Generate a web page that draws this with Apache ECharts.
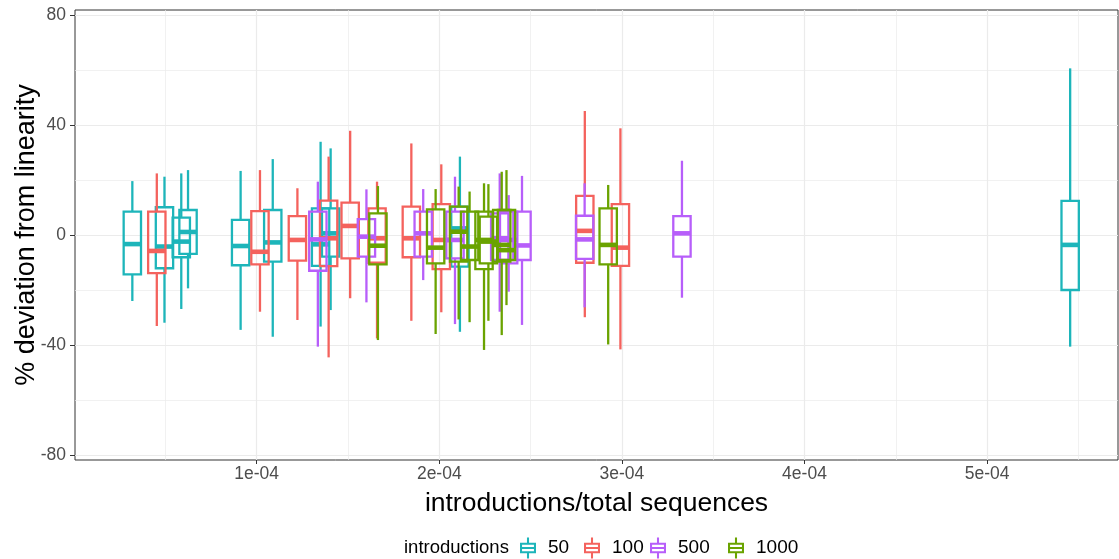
<!DOCTYPE html>
<html>
<head>
<meta charset="utf-8">
<script src="https://cdn.jsdelivr.net/npm/echarts@6/dist/echarts.min.js"></script>
<style>
  html, body { margin: 0; padding: 0; background: #ffffff; }
  #chart { width: 1119px; height: 559px; }
</style>
</head>
<body>
<div id="chart"></div>
<script>
// Each row: [introductions / total sequences, lower whisker, Q1, median, Q3, upper whisker]
const intro50 = [
  [3.19e-5, -24.0, -14.3, -3.3, 8.5, 19.6],
  [4.95e-5, -31.9, -12.1, -4.2, 10.1, 21.2],
  [5.87e-5, -26.9, -8.1, -2.4, 6.3, 22.4],
  [6.24e-5, -19.4, -6.9, 1.1, 9.1, 23.6],
  [9.12e-5, -34.5, -11.0, -4.0, 5.5, 23.3],
  [1.088e-4, -37.0, -9.7, -2.7, 9.1, 27.6],
  [1.350e-4, -33.3, -11.2, -3.4, 9.7, 33.9],
  [1.405e-4, -27.3, -7.9, 0.6, 9.7, 31.5],
  [2.113e-4, -35.2, -11.5, 2.4, 10.3, 28.5],
  [5.455e-4, -40.6, -20.0, -3.6, 12.4, 60.6]
];
const intro100 = [
  [4.53e-5, -33.1, -13.9, -5.8, 8.5, 22.4],
  [1.018e-4, -27.9, -10.7, -6.1, 8.7, 23.6],
  [1.223e-4, -30.9, -9.3, -1.8, 6.9, 17.0],
  [1.394e-4, -44.5, -11.3, -1.2, 12.5, 28.5],
  [1.512e-4, -23.0, -8.5, 3.3, 11.8, 37.9],
  [1.659e-4, -37.6, -10.1, -1.2, 9.7, 19.4],
  [1.847e-4, -31.2, -8.1, -1.2, 10.3, 33.3],
  [2.011e-4, -28.1, -12.4, -1.8, 11.2, 25.7],
  [2.797e-4, -29.9, -10.1, 1.5, 14.2, 45.1],
  [2.992e-4, -41.6, -11.2, -4.6, 11.2, 38.8]
];
const intro500 = [
  [1.335e-4, -40.6, -13.0, -1.6, 8.5, 19.4],
  [1.601e-4, -24.5, -7.9, -0.6, 5.8, 16.6],
  [1.912e-4, -16.4, -7.9, 0.6, 8.5, 16.7],
  [2.086e-4, -32.4, -8.5, -1.8, 8.5, 21.2],
  [2.331e-4, -27.9, -9.1, -1.2, 7.9, 22.4],
  [2.380e-4, -20.6, -10.3, -1.8, 8.5, 14.5],
  [2.453e-4, -32.7, -9.1, -3.8, 8.5, 21.5],
  [2.796e-4, -26.3, -8.7, -1.6, 7.0, 18.8],
  [3.329e-4, -22.8, -7.9, 0.6, 6.9, 27.0]
];
const intro1000 = [
  [1.664e-4, -38.2, -10.7, -3.9, 7.9, 17.8],
  [1.980e-4, -36.0, -10.3, -4.6, 9.3, 16.7],
  [2.106e-4, -30.7, -9.7, 1.2, 10.3, 17.6],
  [2.166e-4, -31.7, -9.1, -4.2, 8.5, 15.8],
  [2.245e-4, -41.8, -12.4, -1.8, 8.5, 18.8],
  [2.269e-4, -31.2, -10.3, -2.4, 6.7, 18.5],
  [2.342e-4, -36.4, -9.7, -3.6, 9.1, 23.0],
  [2.368e-4, -25.5, -9.1, -5.5, 9.1, 23.6],
  [2.925e-4, -39.8, -10.7, -3.6, 9.7, 18.2]
];

const groupNames = ['50', '100', '500', '1000'];
const groupData = [intro50, intro100, intro500, intro1000];
const groupColors = ['#1DB5BA', '#F4625D', '#B75EFA', '#6AA300'];

const xMajorTicks = [1e-4, 2e-4, 3e-4, 4e-4, 5e-4];
const xMinorTicks = [0.5e-4, 1.5e-4, 2.5e-4, 3.5e-4, 4.5e-4, 5.5e-4];
const yMajorTicks = [-80, -40, 0, 40, 80];
const yMinorTicks = [-60, -20, 20, 60];

const X_MIN = 0.05e-5, X_MAX = 5.717e-4;
const Y_MIN = -81.82, Y_MAX = 81.82;
const BOX_WIDTH = 0.95e-5;

const FONT = '"Liberation Sans", Arial, Helvetica, sans-serif';
const GRID_COLOR = '#EBEBEB';

// boxplot key glyph: whiskers, outlined box and median bar
const keyIcon = 'path://' +
  'M6.1 0H7.9V5H6.1Z' +
  'M0 5H14V6.8H0Z' +
  'M0 13.2H14V15H0Z' +
  'M0 5H1.8V15H0Z' +
  'M12.2 5H14V15H12.2Z' +
  'M0 9H14V11H0Z' +
  'M6.1 15H7.9V20H6.1Z';

// left edge of each legend key
const legendLefts = [520, 584, 650, 728];

function renderBox(params, api) {
  const x = api.value(0);
  const lo = api.coord([x, api.value(1)]);
  const q1 = api.coord([x, api.value(2)]);
  const md = api.coord([x, api.value(3)]);
  const q3 = api.coord([x, api.value(4)]);
  const hi = api.coord([x, api.value(5)]);
  const hw = api.size([BOX_WIDTH, 0])[0] / 2;
  const color = api.visual('color');
  const cx = q1[0];
  const thin = { stroke: color, lineWidth: 2.3, fill: null };
  return {
    type: 'group',
    children: [
      { type: 'line', shape: { x1: cx, y1: q3[1], x2: cx, y2: hi[1] }, style: thin },
      { type: 'line', shape: { x1: cx, y1: q1[1], x2: cx, y2: lo[1] }, style: thin },
      { type: 'rect', shape: { x: cx - hw, y: q3[1], width: 2 * hw, height: q1[1] - q3[1] },
        style: { stroke: color, lineWidth: 2.3, fill: 'rgba(0,0,0,0)' } },
      { type: 'line', shape: { x1: cx - hw, y1: md[1], x2: cx + hw, y2: md[1] },
        style: { stroke: color, lineWidth: 4.6, fill: null } }
    ]
  };
}

const chart = echarts.init(document.getElementById('chart'), null, { renderer: 'canvas' });

const series = groupNames.map((name, i) => ({
  name: name,
  type: 'custom',
  renderItem: renderBox,
  xAxisIndex: 0,
  yAxisIndex: 0,
  encode: { x: 0, y: [1, 2, 3, 4, 5] },
  itemStyle: { color: groupColors[i] },
  data: groupData[i],
  z: 3 + i
}));

const legends = groupNames.map((name, i) => ({
  data: [name],
  orient: 'horizontal',
  left: legendLefts[i], top: 537.5,
  padding: 0,
  itemWidth: 16, itemHeight: 21,
  symbolKeepAspect: false,
  icon: keyIcon,
  selectedMode: false,
  textStyle: { fontSize: 19, color: '#000000', fontFamily: FONT, padding: [0, 0, 0, 7] }
}));

const option = {
  animation: false,
  backgroundColor: '#ffffff',
  textStyle: { fontFamily: FONT },
  grid: {
    left: 75, right: 1, top: 10, bottom: 99,
    outerBoundsMode: 'none',
    containLabel: false,
    show: true, borderColor: '#333333', borderWidth: 1, backgroundColor: 'transparent'
  },
  xAxis: [
    {
      type: 'value', min: X_MIN, max: X_MAX, position: 'bottom',
      axisLine: { show: false, onZero: false },
      axisTick: { show: true, length: 4, customValues: xMajorTicks, lineStyle: { color: '#333333', width: 1 } },
      axisLabel: {
        customValues: xMajorTicks, margin: 5, fontSize: 17.5, color: '#4D4D4D', fontFamily: FONT,
        formatter: v => Math.round(v * 1e4) + 'e-04'
      },
      splitLine: { show: true, lineStyle: { color: GRID_COLOR, width: 1.2 } },
      name: 'introductions/total sequences',
      nameLocation: 'middle', nameGap: 30, nameMoveOverlap: false,
      nameTextStyle: { fontSize: 26.5, color: '#000000', fontFamily: FONT }
    },
    {
      type: 'value', min: X_MIN, max: X_MAX, position: 'bottom',
      axisLine: { show: false, onZero: false },
      axisTick: { show: false, customValues: xMinorTicks },
      axisLabel: { show: false, customValues: xMinorTicks },
      splitLine: { show: true, lineStyle: { color: GRID_COLOR, width: 0.7 } }
    }
  ],
  yAxis: [
    {
      type: 'value', min: Y_MIN, max: Y_MAX, position: 'left',
      axisLine: { show: false, onZero: false },
      axisTick: { show: true, length: 5, customValues: yMajorTicks, lineStyle: { color: '#333333', width: 1 } },
      axisLabel: { customValues: yMajorTicks, margin: 9, fontSize: 17.5, color: '#4D4D4D', fontFamily: FONT },
      splitLine: { show: true, lineStyle: { color: GRID_COLOR, width: 1.2 } },
      name: '% deviation from linearity',
      nameLocation: 'middle', nameGap: 35, nameMoveOverlap: false,
      nameTextStyle: { fontSize: 27, color: '#000000', fontFamily: FONT }
    },
    {
      type: 'value', min: Y_MIN, max: Y_MAX, position: 'left',
      axisLine: { show: false, onZero: false },
      axisTick: { show: false, customValues: yMinorTicks },
      axisLabel: { show: false, customValues: yMinorTicks },
      splitLine: { show: true, lineStyle: { color: GRID_COLOR, width: 0.7 } }
    }
  ],
  legend: legends,
  graphic: [
    {
      type: 'text', x: 404, y: 548,
      style: { text: 'introductions', font: '18.5px ' + FONT, fill: '#000000', verticalAlign: 'middle', align: 'left' }
    }
  ],
  series: series
};

chart.setOption(option);
</script>
</body>
</html>
